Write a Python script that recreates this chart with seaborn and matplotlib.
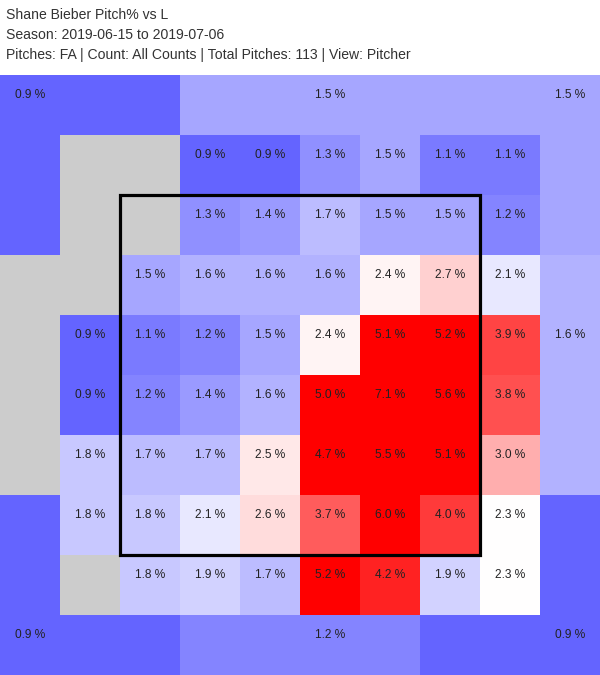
import numpy as np
import matplotlib
matplotlib.use('Agg')
import matplotlib.pyplot as plt
from matplotlib.colors import TwoSlopeNorm
from matplotlib.patches import Rectangle
import seaborn as sns

# Title lines
title_lines = [
    'Shane Bieber Pitch% vs L',
    'Season: 2019-06-15 to 2019-07-06',
    'Pitches: FA | Count: All Counts | Total Pitches: 113 | View: Pitcher',
]

# Inner 8x8 zones (grid rows 1-8, cols 1-8), None = no pitches (gray)
inner_rows = [
    [None, None, 0.9, 0.9, 1.3, 1.5, 1.1, 1.1],
    [None, None, 1.3, 1.4, 1.7, 1.5, 1.5, 1.2],
    [None, 1.5, 1.6, 1.6, 1.6, 2.4, 2.7, 2.1],
    [0.9, 1.1, 1.2, 1.5, 2.4, 5.1, 5.2, 3.9],
    [0.9, 1.2, 1.4, 1.6, 5.0, 7.1, 5.6, 3.8],
    [1.8, 1.7, 1.7, 2.5, 4.7, 5.5, 5.1, 3.0],
    [1.8, 1.8, 2.1, 2.6, 3.7, 6.0, 4.0, 2.3],
    [None, 1.8, 1.9, 1.7, 5.2, 4.2, 1.9, 2.3],
]

# Outer zones: value, cells (row, col) covered, and where the label sits
zone_names = ['top_left', 'top_mid', 'top_right', 'right_mid',
              'bottom_right', 'bottom_mid', 'bottom_left', 'left_mid']
zone_values = [0.9, 1.5, 1.5, 1.6, 0.9, 1.2, 0.9, None]
zone_cells = [
    [(0, 0), (0, 1), (0, 2), (1, 0), (2, 0)],
    [(0, 3), (0, 4), (0, 5), (0, 6)],
    [(0, 7), (0, 8), (0, 9), (1, 9), (2, 9)],
    [(3, 9), (4, 9), (5, 9), (6, 9)],
    [(9, 7), (9, 8), (9, 9), (7, 9), (8, 9)],
    [(9, 3), (9, 4), (9, 5), (9, 6)],
    [(9, 0), (9, 1), (9, 2), (7, 0), (8, 0)],
    [(3, 0), (4, 0), (5, 0), (6, 0)],
]
zone_label_cell = [(0, 0), (0, 5), (0, 9), (4, 9), (9, 9), (9, 5), (9, 0), None]

# Build the 10x10 grid
grid = np.full((10, 10), np.nan)
labels = {}
for r, row in enumerate(inner_rows):
    for c, v in enumerate(row):
        if v is not None:
            grid[r + 1, c + 1] = v
            labels[(r + 1, c + 1)] = v
for v, cells, lab in zip(zone_values, zone_cells, zone_label_cell):
    if v is None:
        continue
    for (r, c) in cells:
        grid[r, c] = v
    labels[lab] = v

plt.rcParams['font.family'] = ['Liberation Sans', 'DejaVu Sans']

fig = plt.figure(figsize=(6, 6.75), dpi=100)
ax = fig.add_axes([0, 0, 1, 600 / 675])
ax.set_facecolor('#cccccc')

norm = TwoSlopeNorm(vmin=0, vcenter=2.3, vmax=4.5)
sns.heatmap(grid, ax=ax, cmap='bwr', norm=norm, cbar=False,
            xticklabels=False, yticklabels=False)

for (r, c), v in labels.items():
    ax.text(c + 0.5, r + 0.5 - 0.16, f'{v:.1f} %', ha='center', va='center',
            fontsize=8.6, color='#222222')

# Strike zone
ax.add_patch(Rectangle((2, 2), 6, 6, fill=False, edgecolor='black', lw=2.3))

for i, line in enumerate(title_lines):
    fig.text(6 / 600, 1 - (19 + 20 * i) / 675, line, ha='left', va='baseline',
             fontsize=10.1, color='#333333')

fig.savefig('out.png', dpi=100)
